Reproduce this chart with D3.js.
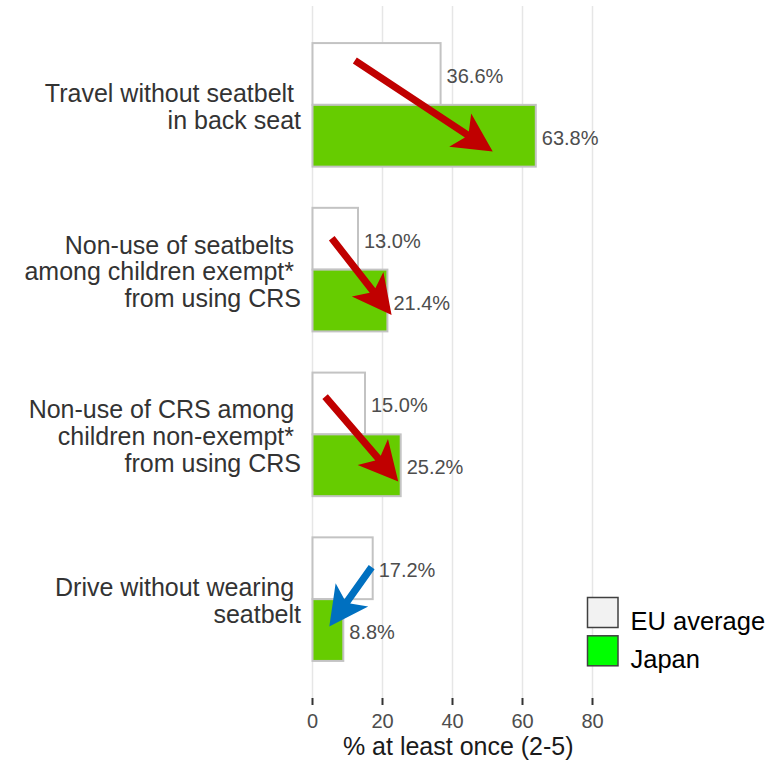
<!DOCTYPE html>
<html>
<head>
<meta charset="utf-8">
<script src="https://cdn.jsdelivr.net/npm/d3@7"></script>
<style>
  html, body { margin: 0; padding: 0; background: #ffffff; }
  svg { display: block; }
  text { font-family: "Liberation Sans", Arial, sans-serif; }
  .pre { white-space: pre; }
</style>
</head>
<body>
<svg id="chart" width="779" height="764"></svg>
<script>
// ---------- data ----------
const categories = ["travel", "exempt", "nonexempt", "drive"];
const categoryLines = [
  ["Travel without seatbelt ", "in back seat"],
  ["Non-use of seatbelts ", "among children exempt* ", "from using CRS"],
  ["Non-use of CRS among ", "children non-exempt* ", "from using CRS"],
  ["Drive without wearing ", "seatbelt"]
];
const seriesNames = ["EU average", "Japan"];
const euValues = [36.6, 13.0, 15.0, 17.2];
const japanValues = [63.8, 21.4, 25.2, 8.8];
const xTicks = [0, 20, 40, 60, 80];
const axisTitle = "% at least once (2-5)";
// arrow annotations: [value, fraction of category band] for tail and tip
const arrowTails = [[12.1, 0.142], [5.5, 0.246], [3.6, 0.194], [16.9, 0.241]];
const arrowTips  = [[51.5, 0.878], [22.6, 0.867], [24.5, 0.882], [4.8, 0.722]];
const arrowKinds = ["up", "up", "up", "down"];

// ---------- layout ----------
const svg = d3.select("#chart");
const panel = { left: 305, right: 604, top: 6, bottom: 698 };

const x = d3.scaleLinear().domain([0, 80]).range([312.5, 592.5]);
const y = d3.scaleBand().domain(categories)
  .range([panel.top, panel.bottom]).paddingInner(0.25).paddingOuter(0.225);
const ySub = d3.scaleBand().domain(seriesNames).range([0, y.bandwidth()]).padding(0);

const fills = { "EU average": "#ffffff", "Japan": "#66cc00" };
const legendFills = { "EU average": "#f2f2f2", "Japan": "#00ff00" };
const arrowColors = { up: "#c00000", down: "#0070c0" };

// grid lines
svg.append("g").selectAll("line").data(xTicks).join("line")
  .attr("x1", d => x(d)).attr("x2", d => x(d))
  .attr("y1", panel.top).attr("y2", panel.bottom)
  .attr("stroke", "#e6e6e6").attr("stroke-width", 1.5);

// bars
const rows = categories.map((c, i) => ({
  cat: c,
  vals: [
    { s: "EU average", v: euValues[i] },
    { s: "Japan", v: japanValues[i] }
  ]
}));

const g = svg.append("g").selectAll("g").data(rows).join("g")
  .attr("transform", d => `translate(0,${y(d.cat)})`);

g.selectAll("rect").data(d => d.vals).join("rect")
  .attr("x", x(0))
  .attr("y", d => ySub(d.s))
  .attr("width", d => x(d.v) - x(0))
  .attr("height", ySub.bandwidth())
  .attr("fill", d => fills[d.s])
  .attr("stroke", "#c3c3c3")
  .attr("stroke-width", 2);

g.selectAll("text.val").data(d => d.vals).join("text")
  .attr("class", "val")
  .attr("x", d => x(d.v) + 6)
  .attr("y", d => ySub(d.s) + ySub.bandwidth() / 2 + 9)
  .attr("font-size", 20)
  .attr("fill", "#4d4d4d")
  .text(d => d.v.toFixed(1) + "%");

// category labels
const lineGap = 26.8;
categories.forEach((c, i) => {
  const lines = categoryLines[i];
  const cy = y(c) + y.bandwidth() / 2 + 2;
  const t = svg.append("text")
    .attr("class", "pre")
    .attr("text-anchor", "end")
    .attr("font-size", 25)
    .attr("fill", "#333333");
  lines.forEach((ln, j) => {
    t.append("tspan")
      .attr("x", 301)
      .attr("y", cy + (j - (lines.length - 1) / 2) * lineGap + 8.7)
      .text(ln);
  });
});

// x axis ticks and labels
const ax = svg.append("g");
ax.selectAll("line").data(xTicks).join("line")
  .attr("x1", d => x(d)).attr("x2", d => x(d))
  .attr("y1", panel.bottom).attr("y2", panel.bottom + 7)
  .attr("stroke", "#333333").attr("stroke-width", 2);
ax.selectAll("text").data(xTicks).join("text")
  .attr("x", d => x(d)).attr("y", 727.5)
  .attr("text-anchor", "middle")
  .attr("font-size", 20)
  .attr("fill", "#4d4d4d")
  .text(d => d);

svg.append("text")
  .attr("x", (x(0) + panel.right) / 2 + 0)
  .attr("y", 755)
  .attr("text-anchor", "middle")
  .attr("font-size", 25)
  .attr("fill", "#1a1a1a")
  .text(axisTitle);

// arrows
function arrowPath(x0, y0, x1, y1) {
  const dx = x1 - x0, dy = y1 - y0;
  const L = Math.hypot(dx, dy);
  const ux = dx / L, uy = dy / L;
  const px = -uy, py = ux;
  const hl = 39, hw = 20, sw = 3.6, notch = 8;
  const bx = x1 - ux * hl, by = y1 - uy * hl;
  const nx = x1 - ux * (hl - notch), ny = y1 - uy * (hl - notch);
  const pts = [
    [x0 + px * sw, y0 + py * sw],
    [nx + px * sw, ny + py * sw],
    [bx + px * hw, by + py * hw],
    [x1, y1],
    [bx - px * hw, by - py * hw],
    [nx - px * sw, ny - py * sw],
    [x0 - px * sw, y0 - py * sw]
  ];
  return "M" + pts.map(p => p[0].toFixed(2) + "," + p[1].toFixed(2)).join("L") + "Z";
}

svg.append("g").selectAll("path").data(categories).join("path")
  .attr("d", (c, i) => arrowPath(
    x(arrowTails[i][0]), y(c) + arrowTails[i][1] * y.bandwidth(),
    x(arrowTips[i][0]), y(c) + arrowTips[i][1] * y.bandwidth()))
  .attr("fill", (c, i) => arrowColors[arrowKinds[i]]);

// legend
const lg = svg.append("g").attr("transform", "translate(587.5,597.5)");
const li = lg.selectAll("g").data(seriesNames).join("g")
  .attr("transform", (d, i) => `translate(0,${i * 38.3})`);
li.append("rect")
  .attr("width", 30.5).attr("height", 30)
  .attr("fill", d => legendFills[d])
  .attr("stroke", "#404040").attr("stroke-width", 1.5);
li.append("text")
  .attr("x", 43).attr("y", 32)
  .attr("font-family", "'Open Sans', sans-serif")
  .attr("font-size", 25.5)
  .attr("fill", "#000000")
  .text(d => d);
</script>
</body>
</html>
